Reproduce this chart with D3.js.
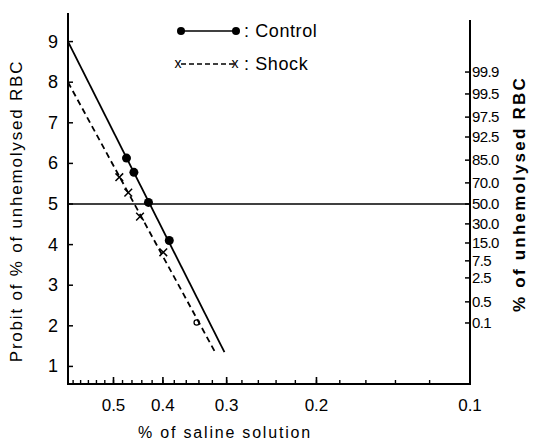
<!DOCTYPE html>
<html><head><meta charset="utf-8">
<script src="https://cdn.jsdelivr.net/npm/d3@7"></script>
<style>
html,body{margin:0;padding:0;background:#fff;}
svg{display:block;font-family:"Liberation Sans",Arial,sans-serif;}
</style></head>
<body><svg id="c" width="546" height="441"></svg>
<script>
// ---- data ----
const controlX = [0.4715, 0.456, 0.427, 0.3887];
const controlP = [6.13, 5.78, 5.04, 4.10];
const shockX = [0.487, 0.4677, 0.4436, 0.3993, 0.3435];
const shockP = [5.66, 5.28, 4.69, 3.81, 2.08];
const controlLineX = [0.614, 0.303];
const controlLineP = [9, 1.35];
const shockLineX = [0.614, 0.316];
const shockLineP = [8, 1.35];
const leftTicks = [1, 2, 3, 4, 5, 6, 7, 8, 9];
const xMajorTicks = [0.5, 0.4, 0.3, 0.2, 0.1];
const xMajorLabels = ["0.5", "0.4", "0.3", "0.2", "0.1"];
const xMinorTicks = d3.range(12, 62, 2).map(d => d / 100);
const rightTickProbits = [8.25, 7.71, 7.14, 6.65, 6.08, 5.52, 5, 4.51, 4.04, 3.60, 3.18, 2.59, 2.07];
const rightTickLabels = ["99.9", "99.5", "97.5", "92.5", "85.0", "70.0", "50.0", "30.0", "15.0", "7.5", "2.5", "0.5", "0.1"];
const refProbit = 5;

// ---- scales ----
const x = d3.scaleLog().domain([0.614, 0.1]).range([68, 470]);
const y = d3.scaleLinear().domain([0.567, 9.704]).range([384, 13]);

const svg = d3.select("#c");
const g = svg.append("g");

// axes lines
g.append("line").attr("x1", x(0.614)).attr("x2", x(0.614)).attr("y1", y(9.704)).attr("y2", y(0.567))
  .attr("stroke", "#000").attr("stroke-width", 2);
g.append("line").attr("x1", x(0.614) - 1).attr("x2", x(0.1) + 1).attr("y1", y(0.567)).attr("y2", y(0.567))
  .attr("stroke", "#000").attr("stroke-width", 2);
g.append("line").attr("x1", x(0.1)).attr("x2", x(0.1)).attr("y1", y(9.53)).attr("y2", y(0.567))
  .attr("stroke", "#000").attr("stroke-width", 2);

// left ticks (inward)
g.selectAll(".lt").data(leftTicks).enter().append("line")
  .attr("x1", x(0.614)).attr("x2", x(0.614) + 5)
  .attr("y1", d => y(d)).attr("y2", d => y(d))
  .attr("stroke", "#000").attr("stroke-width", 1.5);
g.selectAll(".ll").data(leftTicks).enter().append("text")
  .attr("x", 53).attr("y", d => y(d) + 6)
  .attr("text-anchor", "middle").attr("font-size", 18).text(d => d);

// bottom ticks
g.selectAll(".xm").data(xMinorTicks).enter().append("line")
  .attr("x1", d => x(d)).attr("x2", d => x(d))
  .attr("y1", y(0.567)).attr("y2", y(0.567) - 4)
  .attr("stroke", "#000").attr("stroke-width", 1.4);
g.selectAll(".xM").data(xMajorTicks.slice(0, 4)).enter().append("line")
  .attr("x1", d => x(d)).attr("x2", d => x(d))
  .attr("y1", y(0.567)).attr("y2", y(0.567) - 7)
  .attr("stroke", "#000").attr("stroke-width", 1.6);
g.selectAll(".xl").data(xMajorTicks).enter().append("text")
  .attr("x", d => x(d)).attr("y", 411)
  .attr("text-anchor", "middle").attr("font-size", 17).text((d, i) => xMajorLabels[i]);

// right ticks
g.selectAll(".rt").data(rightTickProbits).enter().append("line")
  .attr("x1", x(0.1) - 5).attr("x2", x(0.1))
  .attr("y1", d => y(d)).attr("y2", d => y(d))
  .attr("stroke", "#000").attr("stroke-width", 1.5);
g.selectAll(".rl").data(rightTickProbits).enter().append("text")
  .attr("x", x(0.1) + 2).attr("y", d => y(d) + 5)
  .attr("font-size", 15).attr("letter-spacing", -0.6).text((d, i) => rightTickLabels[i]);

// reference line at probit 5
g.append("line").attr("x1", x(0.614)).attr("x2", x(0.1))
  .attr("y1", y(refProbit)).attr("y2", y(refProbit))
  .attr("stroke", "#000").attr("stroke-width", 1.5);

// fitted lines
const line = d3.line().x(d => x(d[0])).y(d => y(d[1]));
g.append("path").attr("d", line(d3.zip(controlLineX, controlLineP)))
  .attr("fill", "none").attr("stroke", "#000").attr("stroke-width", 1.8);
g.append("path").attr("d", line(d3.zip(shockLineX, shockLineP)))
  .attr("fill", "none").attr("stroke", "#000").attr("stroke-width", 1.8)
  .attr("stroke-dasharray", "6,4");

// control points
g.selectAll(".cp").data(d3.zip(controlX, controlP)).enter().append("circle")
  .attr("cx", d => x(d[0])).attr("cy", d => y(d[1])).attr("r", 4.5).attr("fill", "#000");

// shock points
const cross = d3.symbol().type(d3.symbolX).size(40);
g.selectAll(".sp").data(d3.zip(shockX, shockP).slice(0, 4)).enter().append("path")
  .attr("d", cross).attr("transform", d => `translate(${x(d[0])},${y(d[1])})`)
  .attr("fill", "none").attr("stroke", "#000").attr("stroke-width", 1.5);
g.selectAll(".sp2").data(d3.zip(shockX, shockP).slice(4)).enter().append("circle")
  .attr("cx", d => x(d[0])).attr("cy", d => y(d[1])).attr("r", 2.6)
  .attr("fill", "none").attr("stroke", "#000").attr("stroke-width", 1.3);

// legend
const lg = svg.append("g");
lg.append("line").attr("x1", 181).attr("x2", 236).attr("y1", 31).attr("y2", 31).attr("stroke", "#000").attr("stroke-width", 1.6);
lg.append("circle").attr("cx", 181).attr("cy", 31).attr("r", 4).attr("fill", "#000");
lg.append("circle").attr("cx", 236).attr("cy", 31).attr("r", 4).attr("fill", "#000");
lg.append("text").attr("x", 244).attr("y", 37).attr("font-size", 18).attr("letter-spacing", 0.6).text(": Control");
lg.append("line").attr("x1", 181).attr("x2", 235).attr("y1", 64).attr("y2", 64).attr("stroke", "#000").attr("stroke-width", 1.6).attr("stroke-dasharray", "5,3");
lg.append("text").attr("x", 178).attr("y", 68).attr("font-size", 14).attr("text-anchor", "middle").text("x");
lg.append("text").attr("x", 235).attr("y", 68).attr("font-size", 14).attr("text-anchor", "middle").text("x");
lg.append("text").attr("x", 244).attr("y", 70).attr("font-size", 18).attr("letter-spacing", 0.6).text(": Shock");

// axis titles
svg.append("text").attr("transform", "translate(22,211) rotate(-90)")
  .attr("text-anchor", "middle").attr("font-size", 17).attr("letter-spacing", 1.8)
  .text("Probit of % of unhemolysed RBC");
svg.append("text").attr("transform", "translate(525,194) rotate(-90)")
  .attr("text-anchor", "middle").attr("font-size", 17).attr("font-weight", "bold").attr("letter-spacing", 2.2)
  .text("% of unhemolysed RBC");
svg.append("text").attr("x", 225).attr("y", 438)
  .attr("text-anchor", "middle").attr("font-size", 16).attr("letter-spacing", 1.8)
  .text("% of saline solution");
</script></body></html>
